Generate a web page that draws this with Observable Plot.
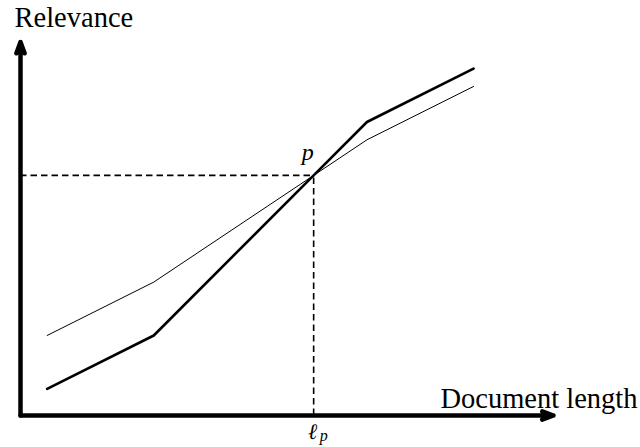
<!DOCTYPE html>
<html>
<head>
<meta charset="utf-8">
<script src="https://cdn.jsdelivr.net/npm/d3@7"></script>
<script src="https://cdn.jsdelivr.net/npm/@observablehq/plot@0.6"></script>
<style>
  html, body { margin: 0; padding: 0; background: #fff; }
  #chart svg { display: block; }
</style>
</head>
<body>
<div id="chart"></div>
<script>
// Thick curve (document length vs relevance)
const thickX = [0.5, 2.5, 5.5, 6.5, 8.5];
const thickY = [0.5, 1.5, 4.5, 5.5, 6.5];
// Thin curve
const thinX = [0.5, 2.5, 5.5, 6.5, 8.5];
const thinY = [1.5, 2.5, 4.5, 5.1667, 6.1667];
// Intersection point p
const pointP = { x: 5.5, y: 4.5 };
// Axis extents
const xMax = 10;
const yMax = 7;
const labels = { y: "Relevance", x: "Document length", p: "p", lp: "ℓ", lpSub: "p" };

const thick = thickX.map((x, i) => ({ x, y: thickY[i] }));
const thin = thinX.map((x, i) => ({ x, y: thinY[i] }));

const serif = "'Liberation Serif', 'DejaVu Serif', serif";

const chart = Plot.plot({
  width: 640,
  height: 447,
  marginLeft: 20,
  marginRight: 87,
  marginTop: 41.5,
  marginBottom: 32,
  x: { domain: [0, xMax], axis: null },
  y: { domain: [0, yMax], axis: null },
  style: { background: "#fff", fontFamily: serif },
  marks: [
    // dashed guides
    Plot.ruleY([pointP], { y: "y", x1: 0, x2: "x", stroke: "#000", strokeWidth: 1.6, strokeDasharray: "6.5,4" }),
    Plot.ruleX([pointP], { x: "x", y1: 0, y2: "y", stroke: "#000", strokeWidth: 1.6, strokeDasharray: "6.5,4" }),
    // curves
    Plot.line(thin, { x: "x", y: "y", stroke: "#000", strokeWidth: 1 }),
    Plot.line(thick, { x: "x", y: "y", stroke: "#000", strokeWidth: 2.6 }),
    // axes with arrows
    Plot.arrow([{ x1: 0, y1: 0, x2: 0, y2: yMax }], { x1: "x1", y1: "y1", x2: "x2", y2: "y2", stroke: "#000", strokeWidth: 4.5, headLength: 4, headAngle: 40 }),
    Plot.arrow([{ x1: 0, y1: 0, x2: xMax, y2: 0 }], { x1: "x1", y1: "y1", x2: "x2", y2: "y2", stroke: "#000", strokeWidth: 4.5, headLength: 4, headAngle: 40 }),
    // labels
    Plot.text([{ x: 0, y: yMax }], { x: "x", y: "y", text: () => labels.y, textAnchor: "start", dx: -6, dy: -24, fontSize: 28.5, fill: "#000" }),
    Plot.text([{ x: xMax, y: 0 }], { x: "x", y: "y", text: () => labels.x, textAnchor: "end", dx: 84, dy: -17, fontSize: 28.5, fill: "#000" }),
    Plot.text([pointP], { x: "x", y: "y", text: () => labels.p, dx: -6, dy: -23, fontSize: 24, fontStyle: "italic", fill: "#000" }),
    Plot.text([{ x: pointP.x, y: 0 }], { x: "x", y: "y", text: () => labels.lp, dx: -1, dy: 16.5, fontSize: 22, fontStyle: "italic", fill: "#000" }),
    Plot.text([{ x: pointP.x, y: 0 }], { x: "x", y: "y", text: () => labels.lpSub, dx: 10, dy: 20, fontSize: 16, fontStyle: "italic", fill: "#000" })
  ]
});

document.getElementById("chart").appendChild(chart);
</script>
</body>
</html>
